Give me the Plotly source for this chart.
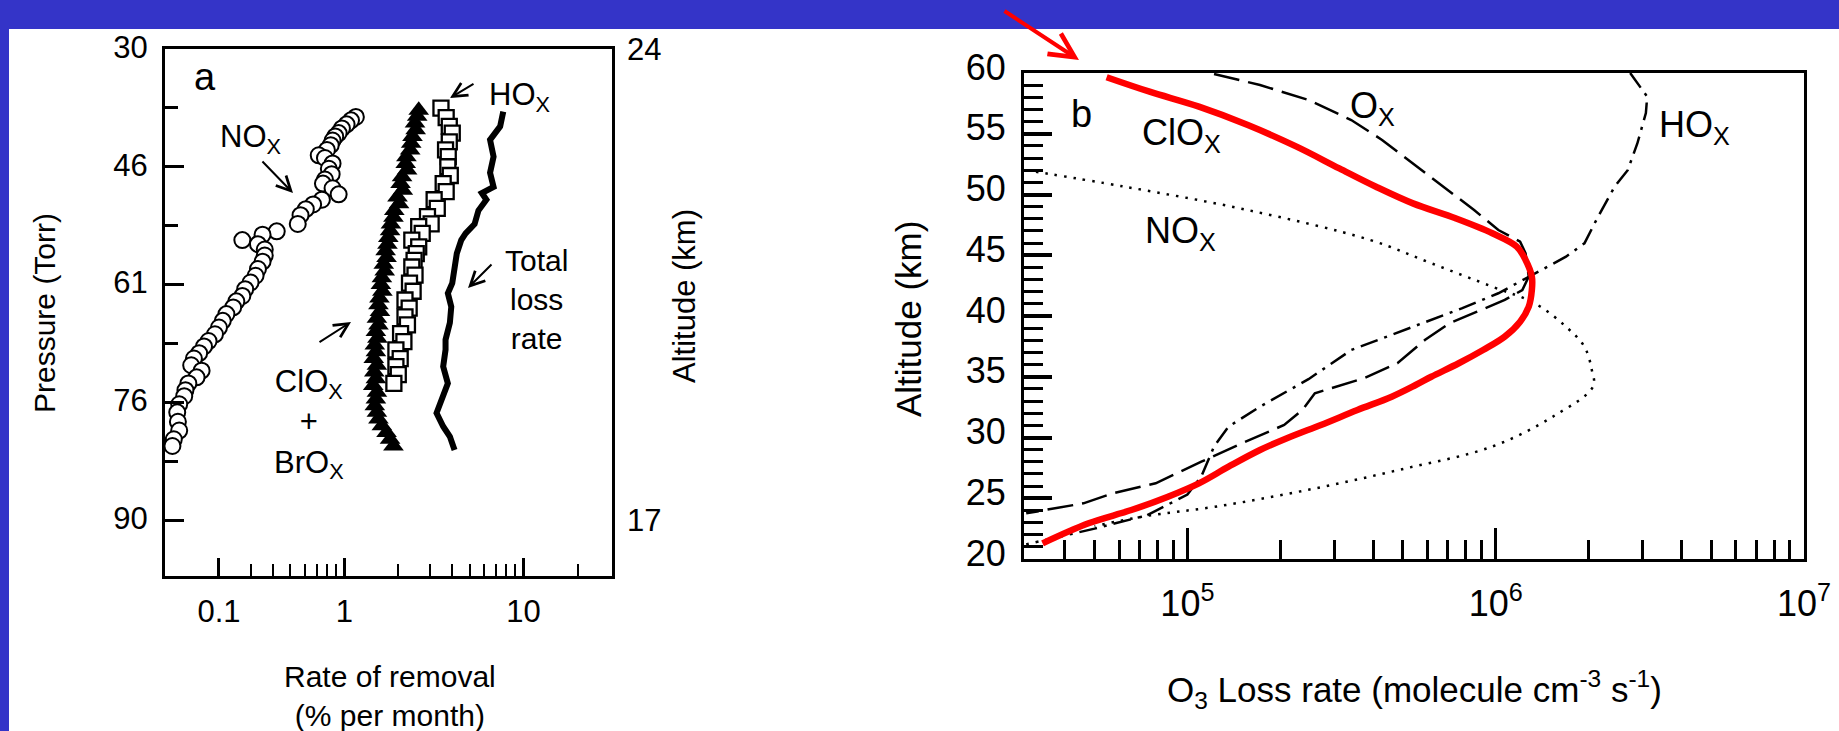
import plotly.graph_objects as go

W, H = 1839, 731
FONT = "Liberation Sans, Arial, Helvetica, sans-serif"
BLUE = "#3434C8"

# ---------------- Panel a data (rate of removal, % per month vs altitude km) ----------------
a_nox_rate = [1.16, 1.09, 1.03, 0.97, 0.93, 0.89, 0.86, 0.84, 0.80, 0.72, 0.78, 0.86, 0.82, 0.85, 0.78,
              0.76, 0.86, 0.93, 0.75, 0.67, 0.61, 0.57, 0.55, 0.42, 0.35, 0.27, 0.33, 0.36, 0.36, 0.35,
              0.33, 0.32, 0.30, 0.28, 0.27, 0.25, 0.24, 0.22, 0.21, 0.20, 0.19, 0.175, 0.165, 0.155, 0.145,
              0.14, 0.16, 0.15, 0.135, 0.13, 0.128, 0.12, 0.117, 0.118, 0.12, 0.112, 0.11]
a_nox_alt = [22.99, 22.94, 22.88, 22.82, 22.75, 22.70, 22.64, 22.57, 22.50, 22.42, 22.38, 22.30, 22.22, 22.14, 22.06,
             22.00, 21.93, 21.84, 21.76, 21.69, 21.62, 21.53, 21.40, 21.29, 21.24, 21.16, 21.10, 21.02, 20.93, 20.84,
             20.73, 20.63, 20.53, 20.43, 20.33, 20.25, 20.16, 20.06, 19.96, 19.86, 19.76, 19.66, 19.58, 19.48, 19.40,
             19.30, 19.22, 19.12, 19.03, 18.93, 18.84, 18.72, 18.60, 18.46, 18.33, 18.20, 18.10]

a_halogen_rate = [2.60, 2.55, 2.48, 2.50, 2.40, 2.36, 2.33, 2.22, 2.20, 2.24, 2.10, 2.06, 2.12, 1.98, 2.02,
                  1.90, 1.88, 1.82, 1.80, 1.76, 1.74, 1.70, 1.72, 1.66, 1.68, 1.62, 1.60, 1.63, 1.57, 1.55,
                  1.58, 1.52, 1.55, 1.50, 1.53, 1.48, 1.50, 1.46, 1.52, 1.47, 1.50, 1.45, 1.52, 1.50, 1.48,
                  1.52, 1.55, 1.62, 1.72, 1.80, 1.88]
a_halogen_alt = [23.09, 23.00, 22.90, 22.80, 22.70, 22.60, 22.50, 22.40, 22.30, 22.20, 22.10, 22.00, 21.90, 21.80, 21.70,
                 21.60, 21.50, 21.40, 21.30, 21.20, 21.10, 21.00, 20.90, 20.80, 20.70, 20.60, 20.50, 20.40, 20.30, 20.20,
                 20.10, 20.00, 19.90, 19.80, 19.70, 19.60, 19.50, 19.40, 19.30, 19.20, 19.10, 19.00, 18.90, 18.80, 18.70,
                 18.60, 18.50, 18.40, 18.30, 18.20, 18.10]

a_hox_rate = [3.46, 3.70, 3.85, 4.00, 3.85, 3.67, 3.80, 3.78, 3.90, 3.56, 3.70, 3.17, 3.30, 2.91, 3.05,
              2.60, 2.72, 2.38, 2.60, 2.52, 2.45, 2.38, 2.48, 2.31, 2.42, 2.18, 2.30, 2.18, 2.25, 2.06,
              2.15, 1.94, 2.05, 1.94, 2.00, 1.89]
a_hox_alt = [23.12, 22.98, 22.85, 22.75, 22.62, 22.50, 22.40, 22.25, 22.12, 22.00, 21.88, 21.76, 21.63, 21.51, 21.40,
             21.36, 21.26, 21.16, 21.06, 20.96, 20.86, 20.76, 20.64, 20.52, 20.40, 20.27, 20.15, 20.02, 19.90, 19.77,
             19.65, 19.53, 19.40, 19.28, 19.16, 19.03]

a_total_rate = [7.7, 7.4, 6.5, 6.8, 6.5, 6.8, 5.85, 6.2, 5.6, 5.33, 4.75, 4.49, 4.24, 4.12, 4.00,
                3.78, 3.95, 3.88, 3.67, 3.67, 3.56, 3.78, 3.46, 3.27, 3.56, 3.88, 4.12]
a_total_alt = [23.07, 22.85, 22.65, 22.40, 22.16, 21.95, 21.86, 21.76, 21.60, 21.40, 21.26, 21.16, 20.96, 20.76, 20.52,
               20.37, 20.17, 19.93, 19.68, 19.53, 19.28, 19.03, 18.78, 18.59, 18.39, 18.24, 18.04]

# axis ticks of panel a
a_x_tickvals = [0.2, 1, 10]
a_x_ticktext = ["0.1", "1", "10"]
a_x_minor = [0.3, 0.4, 0.5, 0.6, 0.7, 0.8, 0.9, 2, 3, 4, 5, 6, 7, 8, 9, 20]
a_alt_ticks = [24, 22.25, 20.5, 18.75, 17]
a_pressure_labels = ["30", "46", "61", "76", "90"]
a_alt_minor = [23.125, 21.375, 19.625, 17.875]
a_right_ticks = [24, 17]
a_right_labels = ["24", "17"]

# ---------------- Panel b data (O3 loss rate, molecule cm-3 s-1 vs altitude km) ----------------
b_clox_rate = [5.47e4, 7.54e4, 1.09e5, 1.57e5, 2.26e5, 3.11e5, 4.09e5, 5.39e5, 7.41e5, 9.75e5,
               1.17e6, 1.25e6, 1.31e6, 1.31e6, 1.28e6, 1.20e6, 1.07e6, 9.10e5, 7.59e5, 6.18e5,
               5.5e5, 4.6e5, 3.56e5, 2.71e5, 2.16e5, 1.72e5, 1.36e5, 1.09e5, 8.65e4, 6.58e4, 4.78e4, 3.39e4]
b_clox_alt = [59.65, 58.46, 57.23, 55.72, 53.94, 52.15, 50.64, 49.27, 48.04, 46.81,
              45.71, 44.61, 43.24, 42.14, 40.77, 39.53, 38.30, 37.20, 36.11, 35.00,
              34.32, 33.36, 32.26, 31.03, 30.07, 28.97, 27.60, 26.23, 25.13, 24.03, 22.94, 21.29]

b_ox_rate = [1.22e5, 1.72e5, 2.47e5, 3.40e5, 4.28e5, 5.38e5, 6.77e5, 8.51e5, 1.02e6, 1.20e6,
             1.25e6, 1.28e6, 1.22e6, 1.07e6, 8.70e5, 7.08e5, 5.89e5, 4.80e5, 3.73e5, 2.59e5,
             2.36e5, 2.06e5, 1.50e5, 1.11e5, 7.89e4, 5.73e4, 4.6e4, 3.0e4]
b_ox_alt = [59.92, 59.01, 57.78, 56.13, 54.49, 52.57, 50.64, 48.72, 47.08, 46.12,
            45.16, 43.24, 42.14, 41.32, 40.36, 39.40, 38.02, 36.11, 34.87, 33.64,
            32.26, 31.03, 29.52, 28.01, 26.23, 25.41, 24.58, 23.76]

b_hox_rate = [2.73e6, 3.10e6, 3.07e6, 2.88e6, 2.68e6, 2.43e6, 2.12e6, 1.94e6, 1.69e6, 1.41e6,
              1.22e6, 1.02e6, 7.76e5, 5.38e5, 3.40e5, 2.47e5, 1.72e5, 1.36e5, 1.22e5, 1.11e5,
              1.0e5, 7.4e4, 5.0e4, 3.0e4]
b_hox_alt = [60.0, 58.05, 56.7, 54.2, 52.0, 50.64, 47.9, 45.98, 44.88, 43.79,
             42.96, 41.87, 40.63, 39.12, 37.2, 34.8, 32.54, 30.9, 29.25, 26.8,
             25.3, 23.6, 22.5, 21.2]

b_nox_rate = [3.0e4, 6.27e4, 1.57e5, 3.91e5, 6.18e5, 9.75e5, 1.34e6, 1.69e6, 1.94e6, 2.05e6,
              2.07e6, 1.54e6, 9.75e5, 4.91e5, 2.47e5, 1.25e5, 7.2e4, 5.0e4]
b_nox_alt = [52.0, 50.64, 48.72, 46.26, 44.34, 42.41, 41.04, 39.12, 37.47, 35.56,
             34.2, 31.75, 29.26, 27.36, 25.7, 24.33, 23.5, 22.7]

b_x_tickvals = [1e5, 1e6, 1e7]
b_x_ticktext = ["10<sup>5</sup>", "10<sup>6</sup>", "10<sup>7</sup>"]
b_x_minor = [4e4, 5e4, 6e4, 7e4, 8e4, 9e4, 2e5, 3e5, 4e5, 5e5, 6e5, 7e5, 8e5, 9e5,
             2e6, 3e6, 4e6, 5e6, 6e6, 7e6, 8e6, 9e6]
b_y_tickvals = [20, 25, 30, 35, 40, 45, 50, 55, 60]


def px(x):
    return x / W


def py(y):
    return 1 - y / H


fig = go.Figure()

# ---- panel a traces ----
fig.add_trace(go.Scatter(x=a_total_rate, y=a_total_alt, mode="lines",
                         line=dict(color="black", width=6), xaxis="x", yaxis="y", name="Total loss rate"))
fig.add_trace(go.Scatter(x=a_halogen_rate, y=a_halogen_alt, mode="markers",
                         marker=dict(symbol="triangle-up", size=18, color="black"),
                         xaxis="x", yaxis="y", name="ClOx + BrOx"))
fig.add_trace(go.Scatter(x=a_hox_rate, y=a_hox_alt, mode="markers",
                         marker=dict(symbol="square", size=15, color="white",
                                     line=dict(color="black", width=2.3)),
                         xaxis="x", yaxis="y", name="HOx"))
fig.add_trace(go.Scatter(x=a_nox_rate, y=a_nox_alt, mode="markers",
                         marker=dict(symbol="circle", size=16, color="white",
                                     line=dict(color="black", width=2)),
                         xaxis="x", yaxis="y", name="NOx"))
# right-hand altitude axis of panel a
fig.add_trace(go.Scatter(x=[], y=[], xaxis="x", yaxis="y3", showlegend=False, hoverinfo="skip"))

# ---- panel b traces ----
fig.add_trace(go.Scatter(x=b_nox_rate, y=b_nox_alt, mode="lines", line_shape="spline",
                         line=dict(color="black", width=2.5, dash="2.5px,7px"),
                         xaxis="x2", yaxis="y2", name="NOx"))
fig.add_trace(go.Scatter(x=b_hox_rate, y=b_hox_alt, mode="lines",
                         line=dict(color="black", width=2.5, dash="18px,7px,3px,7px"),
                         xaxis="x2", yaxis="y2", name="HOx"))
fig.add_trace(go.Scatter(x=b_ox_rate, y=b_ox_alt, mode="lines",
                         line=dict(color="black", width=2.5, dash="26px,9px"),
                         xaxis="x2", yaxis="y2", name="Ox"))
fig.add_trace(go.Scatter(x=b_clox_rate, y=b_clox_alt, mode="lines", line_shape="spline",
                         line=dict(color="#FF0000", width=6.5),
                         xaxis="x2", yaxis="y2", name="ClOx"))

tickfont_a = dict(family=FONT, size=31, color="black")
tickfont_b = dict(family=FONT, size=36, color="black")
frame = dict(showline=True, linecolor="black", linewidth=3, mirror=True,
             showgrid=False, zeroline=False, automargin=False)

fig.update_layout(
    template="none",
    width=W, height=H, autosize=False,
    margin=dict(l=0, r=0, t=0, b=0, pad=0, autoexpand=False),
    paper_bgcolor="white", plot_bgcolor="white",
    showlegend=False,
    xaxis=dict(domain=[px(165), px(612)], anchor="y", type="log", range=[-1, 1.493],
               tickmode="array", tickvals=a_x_tickvals, ticktext=a_x_ticktext,
               ticks="inside", ticklen=18, tickwidth=2.5, tickcolor="black",
               minor=dict(tickmode="array", tickvals=a_x_minor, ticks="inside",
                          ticklen=12, tickwidth=2, tickcolor="black"),
               tickfont=tickfont_a, ticklabelstandoff=6, **frame),
    yaxis=dict(domain=[py(576), py(49)], anchor="x", range=[16.168, 24],
               tickmode="array", tickvals=a_alt_ticks, ticktext=a_pressure_labels,
               ticks="inside", ticklen=19, tickwidth=3, tickcolor="black",
               minor=dict(tickmode="array", tickvals=a_alt_minor, ticks="inside",
                          ticklen=13, tickwidth=3, tickcolor="black"),
               tickfont=tickfont_a, ticklabelstandoff=8, ticklabelshift=-2, **frame),
    yaxis3=dict(overlaying="y", side="right", anchor="x", range=[16.168, 24],
                tickmode="array", tickvals=a_right_ticks, ticktext=a_right_labels,
                ticks="", showline=False, showgrid=False, zeroline=False, automargin=False,
                tickfont=tickfont_a, ticklabelstandoff=14),
    xaxis2=dict(domain=[px(1024), px(1804)], anchor="y2", type="log", range=[4.47, 7.0],
                tickmode="array", tickvals=b_x_tickvals, ticktext=b_x_ticktext,
                ticks="inside", ticklen=31, tickwidth=2.5, tickcolor="black",
                minor=dict(tickmode="array", tickvals=b_x_minor, ticks="inside",
                           ticklen=19, tickwidth=2.5, tickcolor="black"),
                tickfont=tickfont_b, ticklabelstandoff=11, **frame),
    yaxis2=dict(domain=[py(559), py(73)], anchor="x2", range=[20, 60],
                tickmode="array", tickvals=b_y_tickvals,
                ticks="inside", ticklen=28, tickwidth=3.5, tickcolor="black",
                minor=dict(tickmode="linear", tick0=20, dtick=1, ticks="inside",
                           ticklen=19, tickwidth=3, tickcolor="black"),
                tickfont=tickfont_b, ticklabelstandoff=8, ticklabelshift=-6, **frame),
)

# blue slide frame
fig.add_shape(type="rect", xref="paper", yref="paper", x0=0, x1=1, y0=py(29), y1=1,
              fillcolor=BLUE, line_width=0, layer="below")
fig.add_shape(type="rect", xref="paper", yref="paper", x0=0, x1=px(9), y0=0, y1=1,
              fillcolor=BLUE, line_width=0, layer="below")


def label(text, x, y, size, xanchor="center", yanchor="middle", angle=0):
    fig.add_annotation(text=text, x=px(x), y=py(y), xref="paper", yref="paper", showarrow=False,
                       font=dict(family=FONT, size=size, color="black"),
                       xanchor=xanchor, yanchor=yanchor, textangle=angle)


def arrow(xt, yt, xh, yh, color="black", width=2, size=1.4):
    fig.add_annotation(text="", x=px(xh), y=py(yh), xref="paper", yref="paper",
                       ax=xt - xh, ay=yt - yh, showarrow=True, arrowhead=5,
                       arrowwidth=width, arrowsize=size, arrowcolor=color, standoff=0)


# panel a texts
label("a", 205, 77, 38)
label("NO<sub>X</sub>", 218, 139, 31, xanchor="left")
label("HO<sub>X</sub>", 487, 97, 31, xanchor="left")
label("Total<br>loss<br>rate", 536, 299, 30)
label("ClO<sub>X</sub><br>+<br>BrO<sub>X</sub>", 309, 424, 31)
label("Pressure (Torr)", 45, 313, 30, angle=-90)
label("Altitude (km)", 684, 296, 31, angle=-90)
label("Rate of removal<br>(% per month)", 390, 696, 30)
arrow(261, 160, 293, 193)
arrow(475, 83, 450, 98)
arrow(493, 263, 468, 288)
arrow(318, 343, 351, 322)

# panel b texts
label("b", 1081, 114, 38)
label("ClO<sub>X</sub>", 1140, 135, 36, xanchor="left")
label("NO<sub>X</sub>", 1143, 233, 36, xanchor="left")
label("O<sub>X</sub>", 1348, 108, 36, xanchor="left")
label("HO<sub>X</sub>", 1657, 127, 36, xanchor="left")
label("Altitude (km)", 909, 319, 35, angle=-90)
label("O<sub>3</sub> Loss rate (molecule cm<sup>-3</sup> s<sup>-1</sup>)", 1414, 689, 35)
arrow(1003, 10, 1079, 60, color="#FF0000", width=4, size=1.2)

fig.write_html("out.html", config={"displayModeBar": False},
               post_script="document.body.style.margin='0px';document.body.style.padding='0px';")
